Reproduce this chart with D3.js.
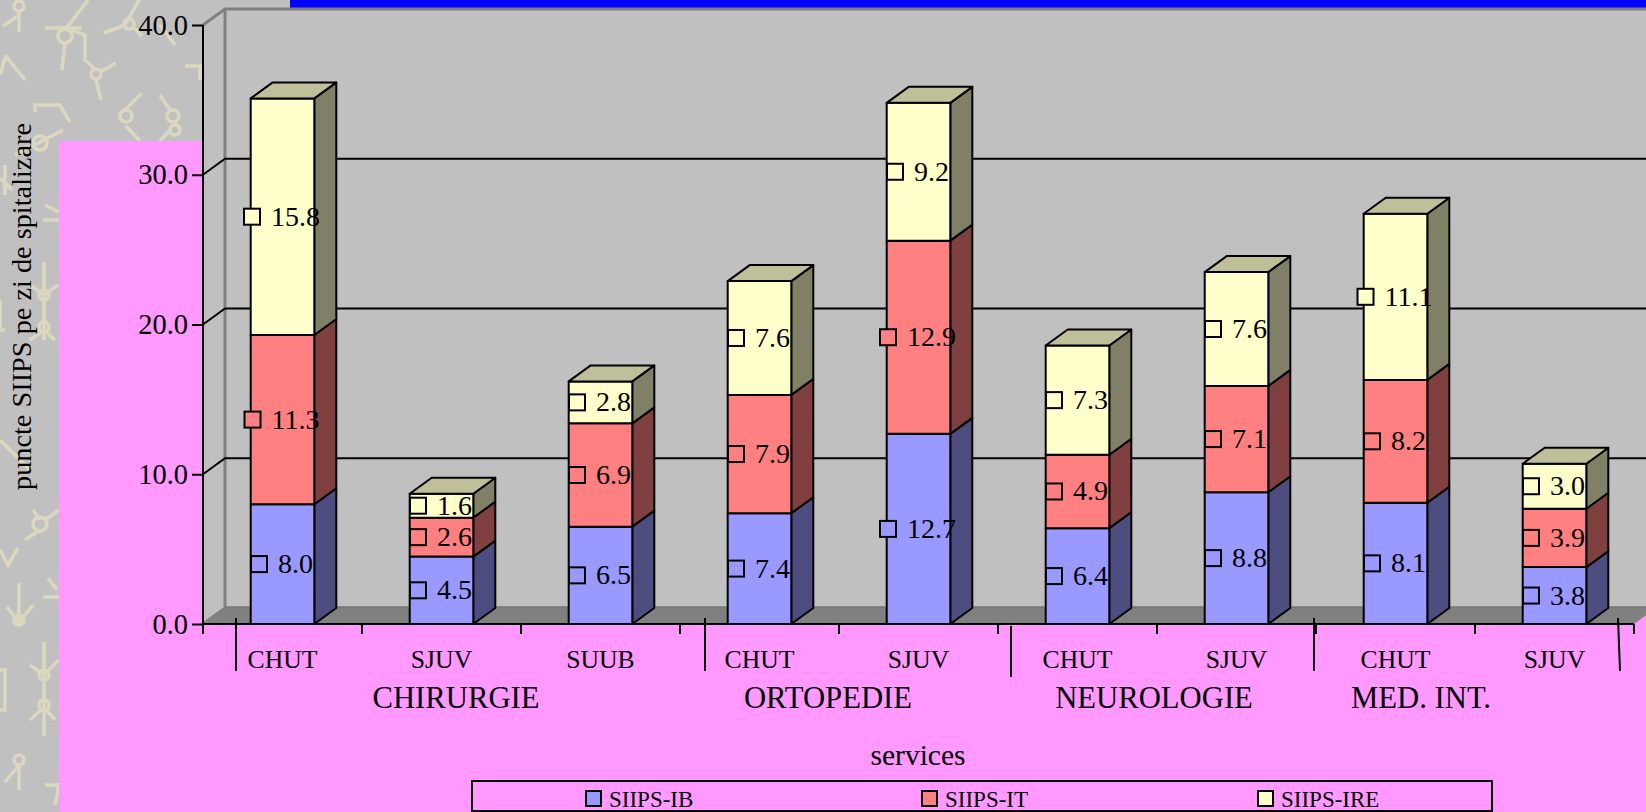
<!DOCTYPE html>
<html>
<head>
<meta charset="utf-8">
<script src="https://cdn.jsdelivr.net/npm/d3@7"></script>
<style>
    html, body { margin: 0; padding: 0; background: #c0c0c0; overflow: hidden; }
    svg { display: block; }
    text { font-family: "Liberation Serif", "Times New Roman", serif; fill: #000; }
</style>
</head>
<body>
<div id="chart-container"></div>
<script>
// values, one entry per bar
const services = ["CHUT", "SJUV", "SUUB", "CHUT", "SJUV", "CHUT", "SJUV", "CHUT", "SJUV"];
const siipsIB = [8.0, 4.5, 6.5, 7.4, 12.7, 6.4, 8.8, 8.1, 3.8];
const siipsIT = [11.3, 2.6, 6.9, 7.9, 12.9, 4.9, 7.1, 8.2, 3.9];
const siipsIRE = [15.8, 1.6, 2.8, 7.6, 9.2, 7.3, 7.6, 11.1, 3.0];
const seriesNames = ["SIIPS-IB", "SIIPS-IT", "SIIPS-IRE"];
const groupNames = ["CHIRURGIE", "ORTOPEDIE", "NEUROLOGIE", "MED. INT."];
const yTicks = [0, 10, 20, 30, 40];

const svgWidth = 1646;
const svgHeight = 812;
const left = 203, right = 1634, bottom = 624, top40 = 25;
// how far the 3d walls and bars go back
const wallDx = 22, wallDy = 16;
const barDx = 22, barDy = 16;

// front, side, top colours per series
const frontColors = ["#9999ff", "#ff8080", "#ffffcc"];
const sideColors = ["#4d4d80", "#804040", "#808066"];
const topColor = "#bfbf99";

const svg = d3.select("#chart-container")
    .append("svg")
    .attr("width", svgWidth)
    .attr("height", svgHeight)
    .attr("viewBox", `0 0 ${svgWidth} ${svgHeight}`);

// background wallpaper, just hand traced squiggles
const squiggles = [
    "M19 11V32M19 15L3 26", "M45 28H82M65 43L62 70M65 30L88 0M72 30L85 35V60L96 70M96 80L101 100M100 72L116 63",
    "M104 33L125 25L139 0M134 28L142 36", "M160 25L175 45", "M5 55L25 80M5 58L0 75", "M185 66H203M200 66V80",
    "M35 112V105H60L70 122", "M125 110L142 93M126 126L140 141", "M160 95L170 110M170 130L160 141",
    "M15 155L63 130", "M0 178L12 190M5 165V195", "M44 262V340M30 285L44 295L58 285M30 340L44 330L55 340",
    "M45 205L59 212M43 220H59", "M0 440L15 455L30 470", "M0 300V330H5",
    "M33 510L40 520M45 520L59 510M25 540L40 530", "M48 578L57 590M43 597H59", "M19 583V618M7 607L19 622L33 605",
    "M0 550L8 565L18 548", "M44 642V736M30 665L44 675L59 660M30 720L44 707L55 720", "M0 670H5V710H0",
    "M19 765V790M5 782L19 765", "M45 785H59L55 805"
];
const rings = [[19, 6, 5], [65, 36, 7], [96, 74, 5], [129, 24, 5], [126, 116, 6], [173, 116, 6], [175, 130, 5], [40, 143, 7], [44, 295, 5], [44, 327, 5], [40, 524, 7], [19, 620, 5], [44, 675, 5], [44, 705, 5], [19, 760, 5]];

const wallpaper = svg.append("g")
    .attr("fill", "none")
    .attr("stroke", "#dcd8c0")
    .attr("stroke-width", 3.5);
wallpaper.selectAll("path").data(squiggles).enter().append("path").attr("d", d => d);
wallpaper.selectAll("circle").data(rings).enter().append("circle")
    .attr("cx", d => d[0]).attr("cy", d => d[1]).attr("r", d => d[2]);

// pink panel and the blue stripe on top
svg.append("rect").attr("x", 59).attr("y", 141).attr("width", svgWidth - 59).attr("height", svgHeight - 141).attr("fill", "#ff99ff");
svg.append("rect").attr("x", 290).attr("y", 0).attr("width", svgWidth - 290).attr("height", 8).attr("fill", "#0000ff");

// Define X and Y scales
const y = d3.scaleLinear().domain([0, 40]).range([bottom, top40]);
const x = d3.scaleBand()
    .domain(d3.range(services.length))
    .range([left, right])
    .paddingInner(0.6)
    .paddingOuter(0.3);

// walls and floor
const wallTop = y(40) - wallDy;
const wallBottom = y(0) - wallDy;
const poly = pts => "M" + pts.map(p => p.join(",")).join("L") + "Z";

svg.append("path")
    .attr("d", poly([[left, y(40)], [left + wallDx, wallTop], [right + wallDx, wallTop], [right + wallDx, wallBottom], [left + wallDx, wallBottom], [left, y(0)]]))
    .attr("fill", "#c0c0c0");
svg.append("path")
    .attr("d", poly([[left, y(0)], [left + wallDx, wallBottom], [right + wallDx, wallBottom], [right, y(0)]]))
    .attr("fill", "#808080");
svg.append("path")
    .attr("d", `M${left},${y(0)}L${left + wallDx},${wallBottom}H${right + wallDx}M${left + wallDx},${wallBottom}V${wallTop}M${left},${y(40)}L${left + wallDx},${wallTop}H${right + wallDx}`)
    .attr("fill", "none")
    .attr("stroke", "#808080")
    .attr("stroke-width", 3);
svg.append("path")
    .attr("d", `M${left + wallDx},${wallBottom - 1}H${right + wallDx}`)
    .attr("stroke", "#707070")
    .attr("stroke-width", 1);

// gridlines, back wall plus the little diagonal on the side wall
svg.append("g").selectAll("path")
    .data(yTicks.slice(1, -1))
    .enter()
    .append("path")
    .attr("d", d => `M${left},${y(d)}L${left + wallDx},${y(d) - wallDy}H${right + wallDx}`)
    .attr("fill", "none")
    .attr("stroke", "#000")
    .attr("stroke-width", 2);

// stack the three series
const rows = services.map((s, i) => ({ i: i, "SIIPS-IB": siipsIB[i], "SIIPS-IT": siipsIT[i], "SIIPS-IRE": siipsIRE[i] }));
const stacked = d3.stack().keys(seriesNames)(rows);

// bars, left to right and bottom to top so the faces overlap properly
const bars = svg.append("g").attr("stroke", "#000").attr("stroke-width", 2).attr("stroke-linejoin", "round");
services.forEach(function (s, i) {
    const x0 = x(i), x1 = x(i) + x.bandwidth();
    stacked.forEach(function (layer, k) {
        const yLow = y(layer[i][0]), yHigh = y(layer[i][1]);
        bars.append("path")
            .attr("d", poly([[x1, yLow], [x1 + barDx, yLow - barDy], [x1 + barDx, yHigh - barDy], [x1, yHigh]]))
            .attr("fill", sideColors[k]);
        bars.append("rect")
            .attr("x", x0)
            .attr("y", yHigh)
            .attr("width", x.bandwidth())
            .attr("height", yLow - yHigh)
            .attr("fill", frontColors[k]);
        if (k == stacked.length - 1) {
            bars.append("path")
                .attr("d", poly([[x0, yHigh], [x0 + barDx, yHigh - barDy], [x1 + barDx, yHigh - barDy], [x1, yHigh]]))
                .attr("fill", topColor);
        }
    });
});

// Add X and Y axes
const yAxis = svg.append("g")
    .attr("class", "axis axis-y")
    .attr("transform", `translate(${left}, 0)`)
    .call(d3.axisLeft(y).tickValues(yTicks).tickFormat(d3.format(".1f")).tickSize(11).tickPadding(4));
yAxis.selectAll("text").attr("font-size", "28.5px").attr("font-family", "Liberation Serif");
yAxis.selectAll("line").attr("stroke", "#000").attr("stroke-width", 2);
yAxis.select(".domain").attr("stroke", "#000").attr("stroke-width", 2).attr("d", `M0,${y(40)}V${y(0) + 10}`);

const xAxis = svg.append("g")
    .attr("class", "axis axis-x")
    .attr("transform", `translate(0, ${bottom})`)
    .call(d3.axisBottom(x).tickFormat(i => services[i]).tickSize(0).tickPadding(26));
xAxis.selectAll("text").attr("font-size", "25.7px").attr("font-family", "Liberation Serif");
xAxis.select(".domain").attr("stroke", "#000").attr("stroke-width", 2).attr("d", `M${left},0H${right}`);

// the short ticks sit between the bars, not under them
xAxis.selectAll(".edge")
    .data(d3.range(1, services.length + 1))
    .enter()
    .append("line")
    .attr("class", "edge")
    .attr("x1", i => left + i * x.step())
    .attr("x2", i => left + i * x.step())
    .attr("y1", 0)
    .attr("y2", 10)
    .attr("stroke", "#000")
    .attr("stroke-width", 2);

// group separators and names, these do not line up with the ticks in the original
const groupLayout = [
    { x1: 236, x2: 236, y1: 618, y2: 671 },
    { x1: 705, x2: 705, y1: 618, y2: 671 },
    { x1: 1011, x2: 1011, y1: 626, y2: 677 },
    { x1: 1314, x2: 1314, y1: 618, y2: 671 },
    { x1: 1618, x2: 1620, y1: 618, y2: 671 }
];
svg.append("g").selectAll("line")
    .data(groupLayout)
    .enter()
    .append("line")
    .attr("x1", d => d.x1).attr("x2", d => d.x2)
    .attr("y1", d => d.y1).attr("y2", d => d.y2)
    .attr("stroke", "#000")
    .attr("stroke-width", 2);

const groupCenters = [456, 828, 1154, 1421];
svg.append("g").selectAll("text")
    .data(groupNames)
    .enter()
    .append("text")
    .text(d => d)
    .attr("x", (d, i) => groupCenters[i])
    .attr("y", 708)
    .attr("text-anchor", "middle")
    .attr("font-size", "30.7px");

// value labels: a small key square and the number, centred on the segment
const labels = svg.append("g");
stacked.forEach(function (layer, k) {
    layer.forEach(function (d, i) {
        const mid = y((d[0] + d[1]) / 2);
        const cx = x(i) + x.bandwidth() / 2;
        const g = labels.append("g");
        const t = g.append("text")
            .text(d3.format(".1f")(d[1] - d[0]))
            .attr("font-size", "28px")
            .attr("y", mid + 9);
        const textW = t.node().getComputedTextLength();
        const startX = cx - 0.5 - (16 + 11 + textW) / 2;
        t.attr("x", startX + 27);
        g.append("rect")
            .attr("x", startX)
            .attr("y", mid - 8)
            .attr("width", 16)
            .attr("height", 16)
            .attr("fill", frontColors[k])
            .attr("stroke", "#000")
            .attr("stroke-width", 2);
    });
});

// axis titles
svg.append("text")
    .text("puncte SIIPS pe zi de spitalizare")
    .attr("transform", "translate(31, 490) rotate(-90)")
    .attr("font-size", "28.3px");

svg.append("text")
    .text("services")
    .attr("x", 918)
    .attr("y", 765)
    .attr("text-anchor", "middle")
    .attr("font-size", "29.5px");

// legend box, cut by the bottom of the page almost
svg.append("rect")
    .attr("x", 472)
    .attr("y", 781)
    .attr("width", 1020)
    .attr("height", 30)
    .attr("fill", "none")
    .attr("stroke", "#000")
    .attr("stroke-width", 2);

const legendX = [586, 922, 1258];
const legend = svg.append("g").selectAll("g")
    .data(seriesNames)
    .enter()
    .append("g")
    .attr("transform", (d, i) => `translate(${legendX[i]}, 791)`);
legend.append("rect")
    .attr("width", 15)
    .attr("height", 15)
    .attr("fill", (d, i) => frontColors[i])
    .attr("stroke", "#000")
    .attr("stroke-width", 2);
legend.append("text")
    .text(d => d)
    .attr("x", 23)
    .attr("y", 16)
    .attr("font-size", "23px");
</script>
</body>
</html>
